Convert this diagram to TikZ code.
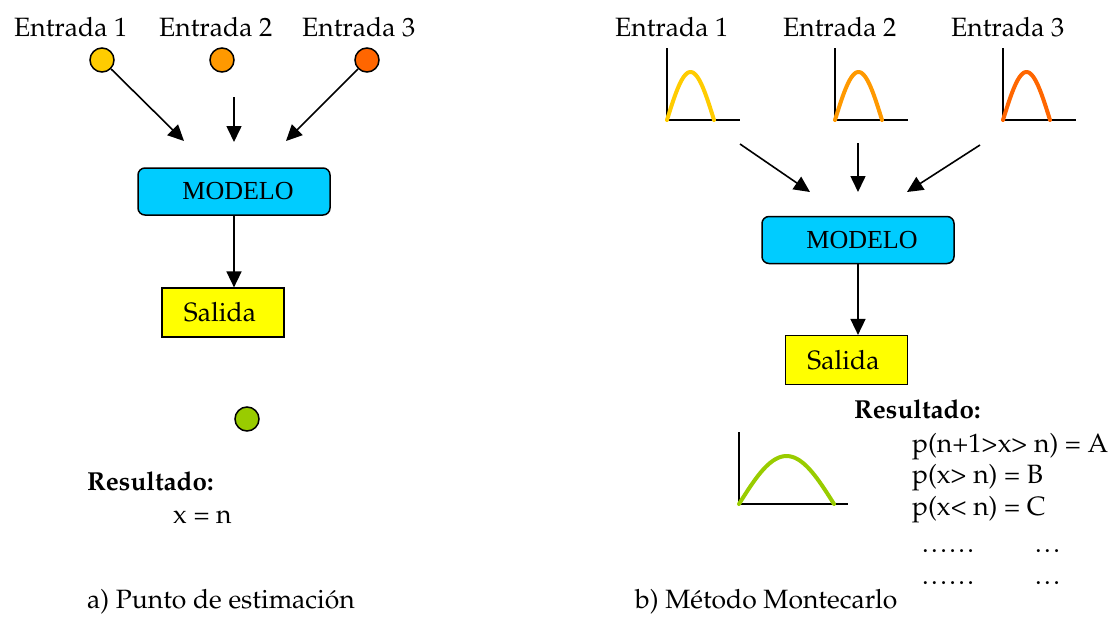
\documentclass[tikz,border=0pt]{standalone}
\usepackage[T1]{fontenc}
\usepackage{fontspec}
\newfontfamily\tmsf{Liberation Serif}
\newcommand\palf{\fontencoding{T1}\fontfamily{ppl}\selectfont}
\newcommand\pdot{.\kern2.4pt}
\usetikzlibrary{arrows.meta}
\definecolor{cmod}{HTML}{00CCFF}
\definecolor{csal}{HTML}{FFFF00}
\definecolor{cgreen}{HTML}{99CC00}
\definecolor{cin1}{HTML}{FFCC00}
\definecolor{cin2}{HTML}{FF9900}
\definecolor{cin3}{HTML}{FF6600}
\tikzset{
  txt/.style={anchor=base west,inner sep=0pt,font=\palf\fontsize{26.5}{30}\selectfont},
  btxt/.style={anchor=base west,inner sep=0pt,font=\palf\bfseries\fontsize{26}{30}\selectfont},
  dot/.style={circle,draw=black,line width=1.5pt,minimum size=24pt,inner sep=0pt},
  modbox/.style={draw=black,line width=1.5pt,fill=cmod,rounded corners=7pt,minimum width=192pt,minimum height=47pt,inner sep=0pt,font=\tmsf\fontsize{26}{30}\selectfont},
  salbox/.style={draw=black,line width=1.2pt,fill=csal,minimum width=122pt,minimum height=49pt,inner sep=0pt,font=\palf\fontsize{26.5}{30}\selectfont},
  arr/.style={line width=1.6pt,-{Triangle[length=16pt,width=15pt]}},
  axisln/.style={line width=2pt},
  hump/.style={line width=4pt,line cap=round}
}
\begin{document}
\begin{tikzpicture}[x=1pt,y=-1pt]
\useasboundingbox (0,0) rectangle (1114,616);
% ---------- left ----------
\node[txt] (le1) at (14,36) {Entrada 1};
\node[txt] (le2) at (159,36) {Entrada 2};
\node[txt] (le3) at (302,36) {Entrada 3};
\node[dot,fill=cin1] (lc1) at (102,60) {};
\node[dot,fill=cin2] (lc2) at (222,60) {};
\node[dot,fill=cin3] (lc3) at (367,60) {};
\coordinate (la1) at (184,141);
\coordinate (la2s) at (234,97);
\coordinate (la2) at (234,142);
\coordinate (la3) at (286,141);
\draw[arr] (lc1) -- (la1);
\draw[arr] (la2s) -- (la2);
\draw[arr] (lc3) -- (la3);
\node[modbox] (lmod) at (234,191.5) {\hspace*{8pt}MODELO};
\node[salbox] (lsal) at (223,312.5) {Salida\hspace*{6pt}};
\draw[arr] (lmod.south) -- (lsal.north -| lmod.south);
\node[dot,fill=cgreen] (lres) at (247,419) {};
\node[btxt] (lrt) at (87,490) {Resultado:};
\node[txt] (lx) at (173,523) {x = n};
\node[txt] (lcap) at (87,608) {a) Punto de estimaci\'on};
% ---------- right ----------
\node[txt] (re1) at (615,36) {Entrada 1};
\node[txt] (re2) at (783,36) {Entrada 2};
\node[txt] (re3) at (951,36) {Entrada 3};
\foreach \px/\cc in {667/cin1,835/cin2,1003/cin3}{
  \draw[axisln] (\px,48) -- (\px,120) -- (\px+73,120);
  \draw[hump,\cc] plot[domain=0:180,samples=40] ({\px+0.2611*\x},{120-48*sin(\x)});
}
\coordinate (ra1s) at (740,144);
\coordinate (ra1) at (810,192);
\coordinate (ra2s) at (858,143);
\coordinate (ra2) at (858,192);
\coordinate (ra3s) at (980,145);
\coordinate (ra3) at (907,192);
\draw[arr] (ra1s) -- (ra1);
\draw[arr] (ra2s) -- (ra2);
\draw[arr] (ra3s) -- (ra3);
\node[modbox] (rmod) at (858,240) {\hspace*{8pt}MODELO};
\node[salbox] (rsal) at (846.5,360) {Salida\hspace*{6pt}};
\draw[arr] (rmod.south) -- (rsal.north -| rmod.south);
\node[btxt] (rrt) at (854,418) {Resultado:};
\draw[axisln] (739,432) -- (739,504) -- (848,504);
\draw[hump,cgreen] plot[domain=0:180,samples=40] ({739+0.5278*\x},{504-48*sin(\x)});
\node[txt] (rp1) at (912,452) {p(n+1>x> n) = A};
\node[txt] (rp2) at (912,483) {p(x> n) = B};
\node[txt] (rp3) at (912,515) {p(x< n) = C};
\node[txt] (rd1) at (922,552) {\pdot\pdot\pdot\pdot\pdot\pdot};
\node[txt] (rd1b) at (1035,552) {\pdot\pdot\pdot};
\node[txt] (rd2) at (922,584) {\pdot\pdot\pdot\pdot\pdot\pdot};
\node[txt] (rd2b) at (1035,584) {\pdot\pdot\pdot};
\node[txt] (rcap) at (635,608) {b) M\'etodo Montecarlo};
\end{tikzpicture}
\end{document}
